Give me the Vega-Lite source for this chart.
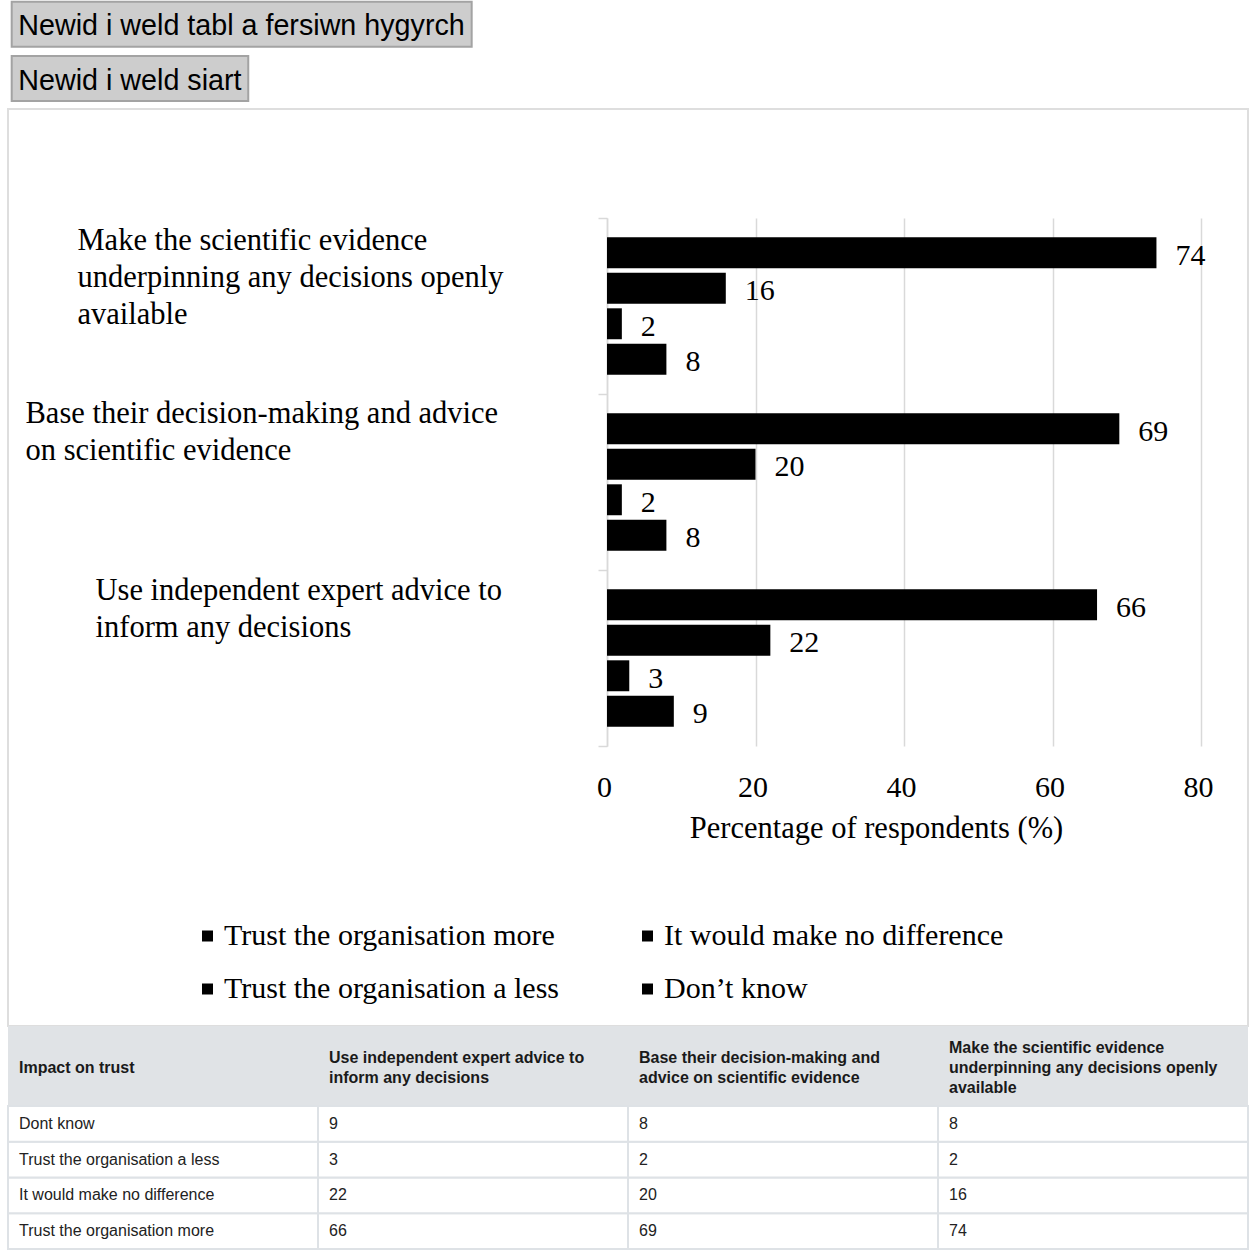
{
  "$schema": "https://vega.github.io/schema/vega-lite/v6.json",
  "padding": {"left": 7, "top": 0, "right": 0, "bottom": 0},
  "background": "white",
  "spacing": 0,
  "bounds": "flush",
  "datasets": {
    "responses": [
      {"statement": "Make the scientific evidence underpinning any decisions openly available", "response": "Trust the organisation more", "tableLabel": "Trust the organisation more", "value": 74},
      {"statement": "Make the scientific evidence underpinning any decisions openly available", "response": "It would make no difference", "tableLabel": "It would make no difference", "value": 16},
      {"statement": "Make the scientific evidence underpinning any decisions openly available", "response": "Trust the organisation a less", "tableLabel": "Trust the organisation a less", "value": 2},
      {"statement": "Make the scientific evidence underpinning any decisions openly available", "response": "Don’t know", "tableLabel": "Dont know", "value": 8},
      {"statement": "Base their decision-making and advice on scientific evidence", "response": "Trust the organisation more", "tableLabel": "Trust the organisation more", "value": 69},
      {"statement": "Base their decision-making and advice on scientific evidence", "response": "It would make no difference", "tableLabel": "It would make no difference", "value": 20},
      {"statement": "Base their decision-making and advice on scientific evidence", "response": "Trust the organisation a less", "tableLabel": "Trust the organisation a less", "value": 2},
      {"statement": "Base their decision-making and advice on scientific evidence", "response": "Don’t know", "tableLabel": "Dont know", "value": 8},
      {"statement": "Use independent expert advice to inform any decisions", "response": "Trust the organisation more", "tableLabel": "Trust the organisation more", "value": 66},
      {"statement": "Use independent expert advice to inform any decisions", "response": "It would make no difference", "tableLabel": "It would make no difference", "value": 22},
      {"statement": "Use independent expert advice to inform any decisions", "response": "Trust the organisation a less", "tableLabel": "Trust the organisation a less", "value": 3},
      {"statement": "Use independent expert advice to inform any decisions", "response": "Don’t know", "tableLabel": "Dont know", "value": 9}
    ],
    "buttons": [
      {"button": "Newid i weld tabl a fersiwn hygyrch", "characters": 35},
      {"button": "Newid i weld siart", "characters": 18}
    ],
    "headings": [
      {"column": "Impact on trust", "heading": "Impact on trust"},
      {"column": "Use independent expert advice to inform any decisions", "heading": "Use independent expert advice to\ninform any decisions"},
      {"column": "Base their decision-making and advice on scientific evidence", "heading": "Base their decision-making and\nadvice on scientific evidence"},
      {"column": "Make the scientific evidence underpinning any decisions openly available", "heading": "Make the scientific evidence\nunderpinning any decisions openly\navailable"}
    ]
  },
  "vconcat": [
    {
      "width": 1240,
      "height": 109,
      "data": {"name": "buttons"},
      "encoding": {
        "y": {"field": "button", "type": "nominal", "sort": null, "axis": null, "scale": {"paddingInner": 0.17, "paddingOuter": 0.089, "align": 0.18}}
      },
      "layer": [
        {
          "mark": {"type": "bar", "fill": "#cdcdcd", "stroke": "#a3a3a3", "strokeWidth": 2},
          "encoding": {
            "x": {"field": "characters", "type": "quantitative", "axis": null, "scale": {"domain": [-0.2815, 94.07], "nice": false, "zero": false}},
            "x2": {"datum": 0}
          }
        },
        {
          "mark": {"type": "text", "align": "left", "baseline": "middle", "dx": 6.6, "dy": 2, "font": "Liberation Sans", "fontSize": 28.7, "color": "#000000"},
          "encoding": {
            "x": {"datum": 0, "type": "quantitative"},
            "text": {"field": "button"}
          }
        }
      ]
    },
    {
      "width": 1240,
      "height": 917,
      "view": {"stroke": "#dedede", "strokeWidth": 2},
      "data": {"name": "responses"},
      "encoding": {
        "y": {
          "field": "statement", "type": "nominal",
          "sort": ["Make the scientific evidence underpinning any decisions openly available", "Base their decision-making and advice on scientific evidence", "Use independent expert advice to inform any decisions"],
          "scale": {"range": [109, 637], "paddingInner": 0, "paddingOuter": 0},
          "axis": {
            "title": null, "offset": -599,
            "domain": true, "domainColor": "#d9d9d9", "domainWidth": 1.5,
            "ticks": true, "tickBand": "extent", "tickSize": 9, "tickColor": "#d9d9d9", "tickWidth": 1.5,
            "grid": false,
            "labelFont": "Liberation Serif", "labelFontSize": 30.5, "labelColor": "#000000",
            "labelAlign": "left", "labelBaseline": "alphabetic", "labelLimit": 0, "labelLineHeight": 37,
            "labelPadding": {"condition": [{"test": "datum.value === 'Base their decision-making and advice on scientific evidence'", "value": 573}, {"test": "datum.value === 'Use independent expert advice to inform any decisions'", "value": 503}], "value": 521},
            "labelOffset": {"condition": [{"test": "datum.value === 'Base their decision-making and advice on scientific evidence'", "value": -60}, {"test": "datum.value === 'Use independent expert advice to inform any decisions'", "value": -59}], "value": -57},
            "labelExpr": "datum.value === 'Make the scientific evidence underpinning any decisions openly available' ? ['Make the scientific evidence', 'underpinning any decisions openly', 'available'] : datum.value === 'Base their decision-making and advice on scientific evidence' ? ['Base their decision-making and advice', 'on scientific evidence'] : datum.value === 'Use independent expert advice to inform any decisions' ? ['Use independent expert advice to', 'inform any decisions'] : ''"
          }
        },
        "x": {
          "field": "value", "type": "quantitative",
          "scale": {"domain": [0, 80], "range": [599, 1193], "nice": false}
        },
        "yOffset": {
          "field": "response", "type": "nominal",
          "sort": ["Trust the organisation more", "It would make no difference", "Trust the organisation a less", "Don’t know"],
          "scale": {"paddingInner": 0.13, "paddingOuter": 0.54}
        }
      },
      "layer": [
        {
          "mark": {"type": "bar"},
          "encoding": {
            "x": {
              "field": "value", "type": "quantitative",
              "axis": {
                "orient": "top", "title": null, "values": [0, 20, 40, 60, 80],
                "labels": false, "domain": false, "ticks": false,
                "grid": true, "gridColor": "#d9d9d9", "gridWidth": 1.5
              }
            },
            "color": {
              "field": "response", "type": "nominal",
              "sort": ["Trust the organisation more", "It would make no difference", "Trust the organisation a less", "Don’t know"],
              "scale": {"range": ["#000000", "#000000", "#000000", "#000000"]},
              "legend": {
                "title": null, "orient": "none", "direction": "horizontal", "legendX": 184.5, "legendY": 921, "columns": 2, "columnPadding": 73, "rowPadding": 23,
                "symbolType": "square", "symbolSize": 121, "symbolStrokeWidth": 0,
                "labelFont": "Liberation Serif", "labelFontSize": 30, "labelColor": "#000000", "labelOffset": 1.5, "labelLimit": 0, "padding": 0
              }
            }
          }
        },
        {
          "mark": {"type": "text", "align": "left", "baseline": "middle", "dx": 19, "dy": 3, "font": "Liberation Serif", "fontSize": 30, "color": "#000000"},
          "encoding": {
            "x": {
              "field": "value", "type": "quantitative",
              "axis": {
                "orient": "bottom", "title": "Percentage of respondents (%)", "offset": -280, "values": [0, 20, 40, 60, 80],
                "domain": false, "ticks": false, "tickSize": 0, "grid": false,
                "labelFont": "Liberation Serif", "labelFontSize": 30, "labelColor": "#000000", "labelPadding": 26, "labelBaseline": "top", "labelFlush": false, "labelOffset": -3,
                "titleFont": "Liberation Serif", "titleFontSize": 30.5, "titleFontWeight": "normal", "titleColor": "#000000",
                "titleX": 868, "titleY": 91, "titleBaseline": "alphabetic", "titleAlign": "center"
              }
            },
            "text": {"field": "value", "type": "quantitative"}
          }
        }
      ],
      "resolve": {"axis": {"x": "independent"}}
    },
    {
      "width": 1240,
      "height": 80,
      "data": {"name": "headings"},
      "encoding": {
        "x": {"field": "column", "type": "nominal", "sort": null, "axis": null, "scale": {"paddingInner": 0, "paddingOuter": 0}}
      },
      "layer": [
        {"mark": {"type": "rect", "fill": "#e0e3e6"}},
        {
          "mark": {"type": "text", "align": "left", "baseline": "middle", "dx": 11, "dy": {"expr": "1.5 - 10 * (length(split(datum.heading, '\\n')) - 1)"}, "font": "Liberation Sans", "fontSize": 16, "fontWeight": "bold", "lineBreak": "\n", "lineHeight": 20, "color": "#1a1a1a"},
          "encoding": {
            "x": {"field": "column", "type": "nominal", "sort": null, "bandPosition": 0},
            "text": {"field": "heading"}
          }
        }
      ]
    },
    {
      "width": 1240,
      "height": 143,
      "data": {"name": "responses"},
      "encoding": {
        "x": {"field": "statement", "type": "nominal", "axis": null, "scale": {"domain": ["Impact on trust", "Use independent expert advice to inform any decisions", "Base their decision-making and advice on scientific evidence", "Make the scientific evidence underpinning any decisions openly available"], "paddingInner": 0, "paddingOuter": 0}},
        "y": {"field": "response", "type": "nominal", "axis": null, "scale": {"domain": ["Don’t know", "Trust the organisation a less", "It would make no difference", "Trust the organisation more"], "paddingInner": 0, "paddingOuter": 0}}
      },
      "layer": [
        {"mark": {"type": "rect", "fill": "#ffffff", "stroke": "#dee2e6", "strokeWidth": 2}},
        {
          "transform": [{"filter": "datum.statement === 'Use independent expert advice to inform any decisions'"}],
          "mark": {"type": "rect", "fill": "#ffffff", "stroke": "#dee2e6", "strokeWidth": 2},
          "encoding": {"x": {"datum": "Impact on trust", "type": "nominal"}}
        },
        {
          "mark": {"type": "text", "align": "left", "baseline": "middle", "dx": 11, "font": "Liberation Sans", "fontSize": 16, "color": "#222222"},
          "encoding": {
            "x": {"field": "statement", "type": "nominal", "bandPosition": 0},
            "text": {"field": "value", "type": "quantitative"}
          }
        },
        {
          "transform": [{"filter": "datum.statement === 'Use independent expert advice to inform any decisions'"}],
          "mark": {"type": "text", "align": "left", "baseline": "middle", "dx": 11, "font": "Liberation Sans", "fontSize": 16, "color": "#222222"},
          "encoding": {
            "x": {"datum": "Impact on trust", "type": "nominal", "bandPosition": 0},
            "text": {"field": "tableLabel"}
          }
        }
      ]
    }
  ],
  "config": {"view": {"stroke": null}}
}
